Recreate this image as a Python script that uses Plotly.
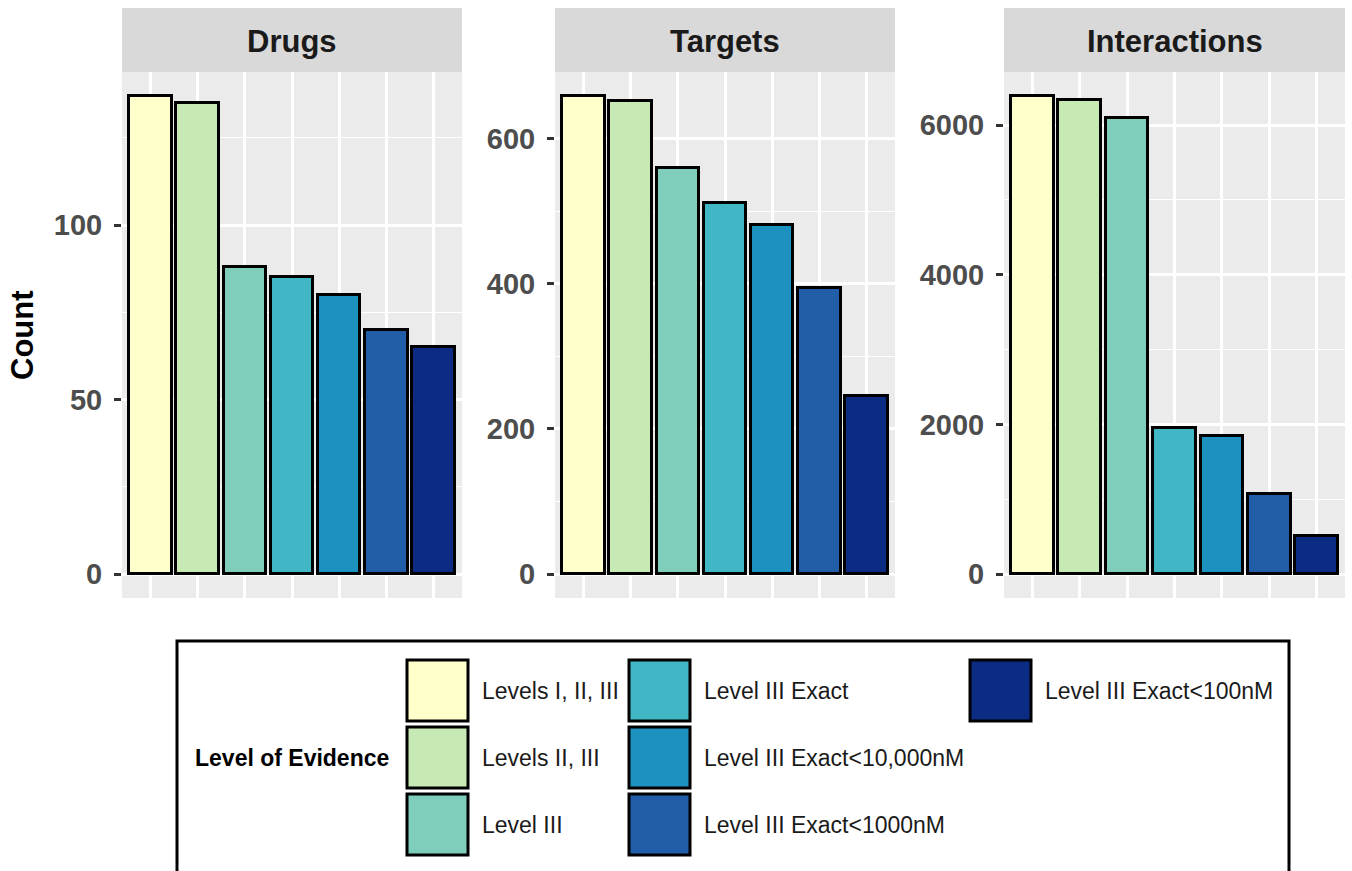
import plotly.graph_objects as go

# ---------------- data ----------------
levels = ["Levels I, II, III", "Levels II, III", "Level III", "Level III Exact",
          "Level III Exact<10,000nM", "Level III Exact<1000nM", "Level III Exact<100nM"]
colors = ["#FFFFCC", "#C7E9B4", "#7FCDBB", "#41B6C4", "#1D91C0", "#225EA8", "#0C2C84"]
panels = ["Drugs", "Targets", "Interactions"]
drugs = [137, 135, 88, 85, 80, 70, 65]
targets = [659, 652, 559, 512, 481, 394, 246]
interactions = [6390, 6338, 6099, 1950, 1840, 1074, 511]
major_ticks = [[0, 50, 100], [0, 200, 400, 600], [0, 2000, 4000, 6000]]
minor_ticks = [[25, 75, 125], [100, 300, 500], [1000, 3000, 5000]]
legend_title = "Level of Evidence"
y_title = "Count"

# ---------------- layout helpers ----------------
W, H = 1352, 871
def X(px): return px / W
def Y(py): return 1 - py / H

panel_x = [(122, 462), (555, 895), (1004, 1345)]
strip_top, panel_top, panel_bot = 8, 72, 598
FONT = "Liberation Sans, Arial, sans-serif"

fig = go.Figure()
series = [drugs, targets, interactions]
layout_axes = {}
shapes = []
annotations = []

for i, (name, vals) in enumerate(zip(panels, series)):
    n = "" if i == 0 else str(i + 1)
    fig.add_trace(go.Bar(
        x=levels, y=vals, width=0.9,
        marker=dict(color=colors, line=dict(color="black", width=3)),
        xaxis="x" + n, yaxis="y" + n, showlegend=False,
        hovertemplate="%{x}: %{y}<extra>" + name + "</extra>",
    ))
    vmax = max(vals)
    layout_axes["xaxis" + n] = dict(
        domain=[X(panel_x[i][0]), X(panel_x[i][1])], anchor="y" + n,
        type="category", categoryorder="array", categoryarray=levels,
        range=[-0.6, len(levels) - 0.4], showticklabels=False, ticks="",
        showgrid=True, gridcolor="white", gridwidth=2.6, zeroline=False,
        showline=False, fixedrange=True,
    )
    layout_axes["yaxis" + n] = dict(
        domain=[Y(panel_bot), Y(panel_top)], anchor="x" + n,
        range=[-0.05 * vmax, 1.05 * vmax],
        tickvals=major_ticks[i], tickformat="d",
        ticks="outside", ticklen=7, tickwidth=2.8, tickcolor="#333333",
        ticklabelstandoff=6,
        tickfont=dict(family=FONT, size=29, color="#4D4D4D", weight="bold"),
        showgrid=True, gridcolor="white", gridwidth=2.6, zeroline=False,
        showline=False, fixedrange=True,
        minor=dict(tickvals=minor_ticks[i], showgrid=True, gridcolor="white",
                   gridwidth=1.3, ticks=""),
    )
    # facet strip
    shapes.append(dict(type="rect", xref="paper", yref="paper",
                       x0=X(panel_x[i][0]), x1=X(panel_x[i][1]),
                       y0=Y(panel_top), y1=Y(strip_top),
                       fillcolor="#D9D9D9", line=dict(width=0), layer="below"))
    annotations.append(dict(text=name, xref="paper", yref="paper",
                            x=X((panel_x[i][0] + panel_x[i][1]) / 2),
                            y=Y((strip_top + panel_top) / 2 + 2),
                            showarrow=False, xanchor="center", yanchor="middle",
                            font=dict(family=FONT, size=31, color="#1A1A1A", weight="bold")))

# y-axis title
annotations.append(dict(text=y_title, xref="paper", yref="paper",
                        x=X(23), y=Y((panel_top + panel_bot) / 2),
                        textangle=-90, showarrow=False, xanchor="center", yanchor="middle",
                        font=dict(family=FONT, size=31, color="black", weight="bold")))

# ---------------- legend (drawn manually, ggplot-style) ----------------
shapes.append(dict(type="rect", xref="paper", yref="paper",
                   x0=X(177), x1=X(1289), y0=Y(900), y1=Y(641),
                   fillcolor="white", line=dict(color="black", width=3)))
annotations.append(dict(text=legend_title, xref="paper", yref="paper",
                        x=X(193), y=Y(758), showarrow=False,
                        xanchor="left", yanchor="middle",
                        font=dict(family=FONT, size=23, color="black", weight="bold")))
col_key_x = [407, 629, 970]      # left edge of key in each legend column
row_key_y = [660, 727, 794]      # top edge of key in each legend row
key = 61
for j, (lab, col) in enumerate(zip(levels, colors)):
    c, r = j // 3, j % 3
    kx, ky = col_key_x[c], row_key_y[r]
    shapes.append(dict(type="rect", xref="paper", yref="paper",
                       x0=X(kx), x1=X(kx + key), y0=Y(ky + key), y1=Y(ky),
                       fillcolor=col, line=dict(color="black", width=3)))
    annotations.append(dict(text=lab, xref="paper", yref="paper",
                            x=X(kx + key + 12), y=Y(ky + key / 2),
                            showarrow=False, xanchor="left", yanchor="middle",
                            font=dict(family=FONT, size=23, color="#1A1A1A")))

fig.update_layout(
    width=W, height=H, autosize=False,
    margin=dict(l=0, r=0, t=0, b=0),
    paper_bgcolor="white", plot_bgcolor="#EBEBEB",
    bargap=0, showlegend=False,
    shapes=shapes, annotations=annotations,
    **layout_axes,
)

fig.write_html("out.html",
               config={"displayModeBar": False},
               post_script="document.body.style.margin='0px';document.body.style.overflow='hidden';")
